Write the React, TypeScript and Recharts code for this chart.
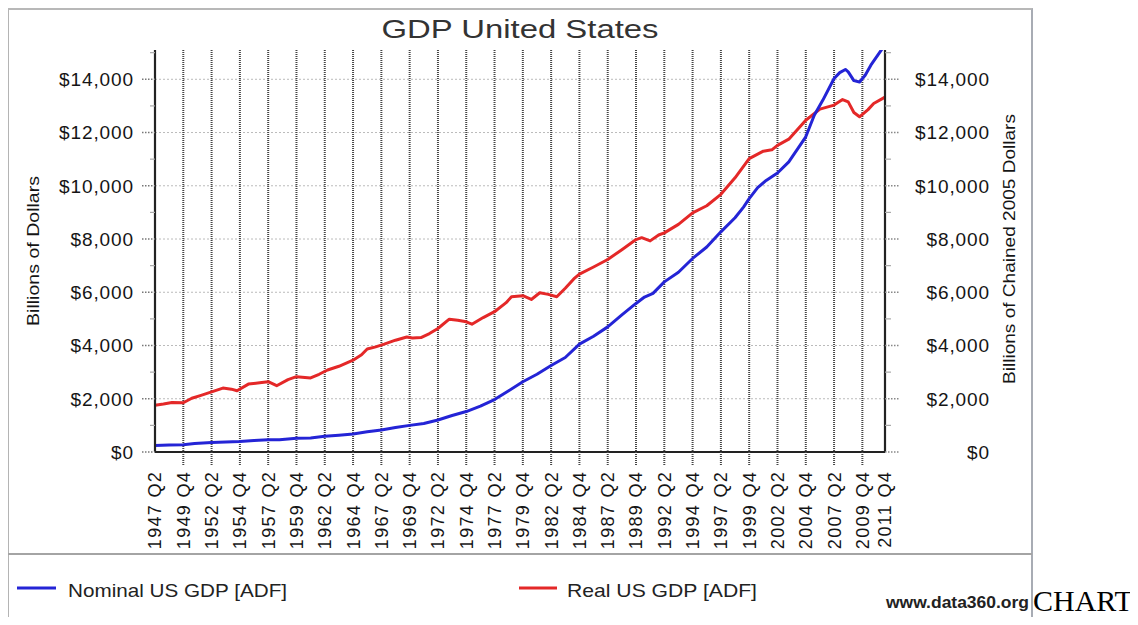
import React from 'react';
import { LineChart, Line, XAxis, YAxis, CartesianGrid } from 'recharts';

// ---- categories / ticks ----
const xTickIdx = [0, 10, 20, 30, 40, 50, 60, 70, 80, 90, 100, 110, 120, 130, 140, 150, 160, 170, 180, 190, 200, 210, 220, 230, 240, 250, 258];
const xTickLabels = [
  '1947 Q2', '1949 Q4', '1952 Q2', '1954 Q4', '1957 Q2', '1959 Q4', '1962 Q2', '1964 Q4', '1967 Q2',
  '1969 Q4', '1972 Q2', '1974 Q4', '1977 Q2', '1979 Q4', '1982 Q2', '1984 Q4', '1987 Q2', '1989 Q4',
  '1992 Q2', '1994 Q4', '1997 Q2', '1999 Q4', '2002 Q2', '2004 Q4', '2007 Q2', '2009 Q4', '2011 Q4',
];
const yTicks = [0, 1000, 2000, 3000, 4000, 5000, 6000, 7000, 8000, 9000, 10000, 11000, 12000, 13000, 14000, 15000];
const yMajor = [0, 2000, 4000, 6000, 8000, 10000, 12000, 14000];

// ---- series (quarter index from 1947 Q2, billions) ----
const nominalQ = [0, 5, 10, 14, 20, 25, 30, 35, 40, 44, 50, 55, 60, 65, 70, 75, 80, 85, 90, 95, 100, 105, 110, 115, 120, 125, 130, 135, 140, 145, 150, 155, 160, 165, 170, 173, 176, 180, 185, 190, 195, 200, 205, 208, 210, 213, 216, 220, 224, 230, 233, 236, 240, 242, 244, 245, 247, 249, 251, 253, 256, 258];
const nominalV = [244, 262, 270, 320, 360, 378, 392, 430, 460, 462, 520, 530, 590, 630, 680, 760, 830, 920, 1000, 1070, 1200, 1370, 1520, 1720, 1970, 2300, 2640, 2920, 3250, 3550, 4050, 4350, 4700, 5150, 5580, 5820, 5960, 6390, 6750, 7270, 7700, 8270, 8800, 9200, 9520, 9930, 10200, 10480, 10900, 11840, 12650, 13210, 14030, 14250, 14370, 14280, 13950, 13900, 14150, 14530, 14990, 15300];

const realQ = [0, 3, 6, 10, 13, 16, 20, 24, 27, 29, 33, 37, 40, 43, 47, 50, 55, 58, 61, 65, 70, 73, 75, 78, 81, 85, 89, 91, 94, 97, 100, 104, 107, 110, 112, 116, 120, 124, 126, 130, 133, 136, 139, 142, 145, 148, 150, 155, 160, 165, 170, 172, 175, 178, 180, 185, 190, 195, 200, 205, 210, 215, 218, 220, 224, 230, 235, 240, 243, 245, 247, 249, 252, 254, 258];
const realV = [1760, 1800, 1860, 1850, 2020, 2120, 2260, 2400, 2360, 2300, 2550, 2600, 2640, 2490, 2720, 2830, 2780, 2920, 3080, 3220, 3450, 3650, 3870, 3950, 4050, 4200, 4320, 4280, 4300, 4450, 4640, 4990, 4950, 4890, 4800, 5050, 5270, 5600, 5830, 5870, 5730, 5980, 5920, 5830, 6150, 6500, 6680, 6950, 7230, 7600, 7980, 8050, 7930, 8150, 8230, 8550, 8980, 9250, 9680, 10300, 11020, 11300, 11350, 11520, 11750, 12460, 12880, 13030, 13240, 13150, 12750, 12590, 12860, 13090, 13330];

const seriesNames = ['Nominal US GDP [ADF]', 'Real US GDP [ADF]'];
const seriesColors = ['#2424d6', '#e42828'];

const nominalData = nominalQ.map((q, i) => ({ q, v: nominalV[i] }));
const realData = realQ.map((q, i) => ({ q, v: realV[i] }));

const FONT = '"Liberation Sans", Arial, sans-serif';
const fmt = (v: number) => '$' + v.toLocaleString('en-US');

function LeftTick(props: any) {
  const { x, y, payload } = props;
  const v = payload.value;
  const major = yMajor.includes(v);
  return (
    <g>
      {major ? (
        <line x1={x - 13} x2={x} y1={y} y2={y} stroke="#777" strokeDasharray="1.5 1.5" strokeWidth={1.6} />
      ) : (
        <line x1={x - 5} x2={x} y1={y} y2={y} stroke="#aaa" strokeWidth={1.2} />
      )}
      {major && (
        <text x={x - 21} y={y} dy="0.36em" textAnchor="end" fontSize={19} letterSpacing={0.9} fill="#151515" fontFamily={FONT}>
          {fmt(v)}
        </text>
      )}
    </g>
  );
}

function RightTick(props: any) {
  const { x, y, payload } = props;
  const v = payload.value;
  const major = yMajor.includes(v);
  return (
    <g>
      {major ? (
        <line x1={x} x2={x + 15} y1={y} y2={y} stroke="#888" strokeDasharray="1.5 1.5" strokeWidth={1.5} />
      ) : (
        <line x1={x} x2={x + 6} y1={y} y2={y} stroke="#aaa" strokeWidth={1.2} />
      )}
      {major && (
        <text x={x + 105} y={y} dy="0.36em" textAnchor="end" fontSize={19} letterSpacing={0.9} fill="#151515" fontFamily={FONT}>
          {fmt(v)}
        </text>
      )}
    </g>
  );
}

function XTick(props: any) {
  const { x, y, payload } = props;
  const i = xTickIdx.indexOf(payload.value);
  const label = xTickLabels[i];
  const inner = i > 0 && i < xTickIdx.length - 1;
  return (
    <g>
      {inner && <line x1={x} x2={x} y1={y} y2={y + 13} stroke="#444" strokeDasharray="1 1" strokeWidth={2} />}
      <text
        transform={`translate(${x},${y + 19}) rotate(-90)`}
        textAnchor="end"
        dy="0.36em"
        fontSize={18}
        letterSpacing={1.3}
        fill="#151515"
        fontFamily={FONT}
      >
        {label}
      </text>
    </g>
  );
}

export default function App() {
  return (
    <div
      style={{
        position: 'relative',
        width: 1138,
        height: 625,
        margin: '-8px 0 -8px -8px',
        overflow: 'hidden',
        background: '#fff',
      }}
    >
      {/* frame */}
      <div
        style={{
          position: 'absolute',
          left: 7,
          top: 8,
          width: 1026,
          height: 613,
          boxSizing: 'border-box',
          borderTop: '2px solid #b8b8b8',
          borderLeft: '2px solid #b4b4b4',
          borderRight: '2px solid #a8acb4',
          borderBottom: '2px solid #888',
        }}
      />
      <div style={{ position: 'absolute', left: 8, top: 553, width: 1024, height: 2, background: '#a4a4a4' }} />

      <div style={{ position: 'absolute', left: 0, top: 0 }}>
        <LineChart width={1138} height={625} margin={{ top: 50, right: 153, bottom: 73, left: 55 }}>
          <CartesianGrid
            yAxisId="left"
            vertical={false}
            horizontalValues={yMajor}
            stroke="#bbb"
            strokeDasharray="2 2"
          />
          <CartesianGrid
            yAxisId="left"
            horizontal={false}
            verticalValues={xTickIdx.slice(1, -1)}
            stroke="#444"
            strokeWidth={2}
            strokeDasharray="1 1"
          />
          <XAxis
            dataKey="q"
            type="number"
            domain={[0, 258]}
            ticks={xTickIdx}
            interval={0}
            height={100}
            tickSize={0}
            tickMargin={0}
            tickLine={false}
            axisLine={{ stroke: '#222', strokeWidth: 2.2 }}
            tick={<XTick />}
          />
          <YAxis
            yAxisId="left"
            orientation="left"
            domain={[0, 15100]}
            allowDataOverflow
            ticks={yTicks}
            interval={0}
            width={100}
            tickSize={0}
            tickMargin={0}
            tickLine={false}
            axisLine={{ stroke: '#222', strokeWidth: 2.2 }}
            tick={<LeftTick />}
          />
          <YAxis
            yAxisId="right"
            orientation="right"
            domain={[0, 15100]}
            allowDataOverflow
            ticks={yTicks}
            interval={0}
            width={100}
            tickSize={0}
            tickMargin={0}
            tickLine={false}
            axisLine={{ stroke: '#222', strokeWidth: 2.2 }}
            tick={<RightTick />}
          />
          <Line
            yAxisId="right"
            data={realData}
            dataKey="v"
            name={seriesNames[1]}
            type="linear"
            stroke={seriesColors[1]}
            strokeWidth={3}
            strokeLinejoin="round"
            dot={false}
            isAnimationActive={false}
          />
          <Line
            yAxisId="left"
            data={nominalData}
            dataKey="v"
            name={seriesNames[0]}
            type="linear"
            stroke={seriesColors[0]}
            strokeWidth={3}
            strokeLinejoin="round"
            dot={false}
            isAnimationActive={false}
          />
        </LineChart>
      </div>

      {/* texts & legend */}
      <svg
        width={1138}
        height={625}
        style={{ position: 'absolute', left: 0, top: 0, pointerEvents: 'none' }}
      >
        <text x={520} y={38} textAnchor="middle" fontSize={26} fill="#333" fontFamily={FONT} textLength={277} lengthAdjust="spacingAndGlyphs">
          GDP United States
        </text>
        <text
          transform="translate(33,251) rotate(-90)"
          textAnchor="middle"
          dy="0.36em"
          fontSize={17}
          fill="#151515"
          fontFamily={FONT}
          textLength={150}
          lengthAdjust="spacingAndGlyphs"
        >
          Billions of Dollars
        </text>
        <text
          transform="translate(1009,249) rotate(-90)"
          textAnchor="middle"
          dy="0.36em"
          fontSize={17}
          fill="#151515"
          fontFamily={FONT}
          textLength={270}
          lengthAdjust="spacingAndGlyphs"
        >
          Billions of Chained 2005 Dollars
        </text>

        <line x1={17} x2={56} y1={588} y2={588} stroke={seriesColors[0]} strokeWidth={3} />
        <text x={68} y={597} fontSize={19} fill="#222" fontFamily={FONT} textLength={219} lengthAdjust="spacingAndGlyphs">
          {seriesNames[0]}
        </text>
        <line x1={519} x2={557} y1={588} y2={588} stroke={seriesColors[1]} strokeWidth={3} />
        <text x={567} y={597} fontSize={19} fill="#222" fontFamily={FONT} textLength={190} lengthAdjust="spacingAndGlyphs">
          {seriesNames[1]}
        </text>

        <text x={886} y={608} fontSize={16} fontWeight="bold" fill="#222" fontFamily={FONT} textLength={143} lengthAdjust="spacingAndGlyphs">
          www.data360.org
        </text>
        <text x={1033} y={611} fontSize={30} fill="#000" fontFamily='"Liberation Serif", "Times New Roman", serif'>
          CHART
        </text>
      </svg>
    </div>
  );
}
